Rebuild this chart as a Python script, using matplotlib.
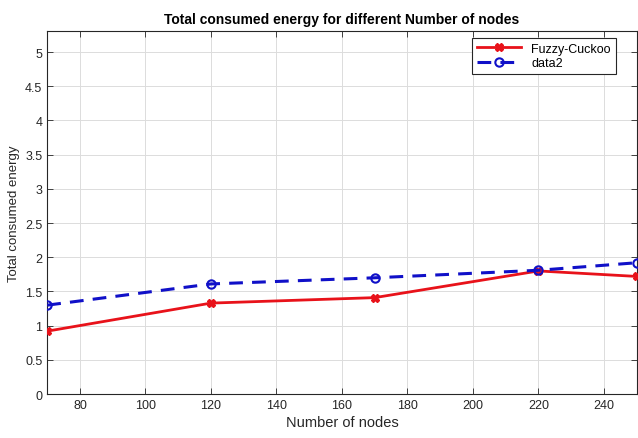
import matplotlib
matplotlib.use("Agg")
import matplotlib.pyplot as plt

nodes = [70, 120, 170, 220, 250]
fuzzy_cuckoo = [0.92, 1.33, 1.41, 1.80, 1.72]
data2 = [1.30, 1.61, 1.70, 1.81, 1.92]

x_ticks = [80, 100, 120, 140, 160, 180, 200, 220, 240]
y_ticks = [0, 0.5, 1, 1.5, 2, 2.5, 3, 3.5, 4, 4.5, 5]

plt.rcParams["font.family"] = ["Liberation Sans", "DejaVu Sans"]

fig = plt.figure(figsize=(6.38, 4.39), dpi=100)
ax = fig.add_axes([0.074, 0.100, 0.924, 0.826])

ax.plot(nodes, fuzzy_cuckoo, color="#e8121a", linewidth=2, marker="X",
        markersize=6, label="Fuzzy-Cuckoo", zorder=3)
ax.plot(nodes, data2, color="#1010c8", linewidth=2.2, linestyle=(0, (4.5, 3)),
        marker="o", markersize=6, markerfacecolor="none", markeredgewidth=1.5,
        label="data2", zorder=3)

ax.set_xlim(70, 250)
ax.set_ylim(0, 5.3)
ax.set_xticks(x_ticks)
ax.set_yticks(y_ticks)
ax.set_yticklabels(["0", "0.5", "1", "1.5", "2", "2.5", "3", "3.5", "4", "4.5", "5"])
ax.tick_params(direction="in", top=True, right=True, labelsize=9,
               colors="#262626", length=4, width=0.6)
ax.grid(color="#dcdcdc", linewidth=0.7)
for s in ax.spines.values():
    s.set_color("#262626")
    s.set_linewidth(0.8)

ax.set_xlabel("Number of nodes", fontsize=10.5, color="#262626", labelpad=3)
ax.set_ylabel("Total consumed energy", fontsize=9.5, color="#262626", labelpad=4)
ax.set_title("Total consumed energy for different Number of nodes",
             fontsize=10, fontweight="bold", pad=6)

leg = ax.legend(loc="upper right", fontsize=9, fancybox=False, framealpha=1,
                edgecolor="#262626", handlelength=3.5, borderpad=0.4,
                labelspacing=0.2, bbox_to_anchor=(0.975, 1.0))
leg.get_frame().set_linewidth(0.8)

fig.savefig("out.png", dpi=100)
